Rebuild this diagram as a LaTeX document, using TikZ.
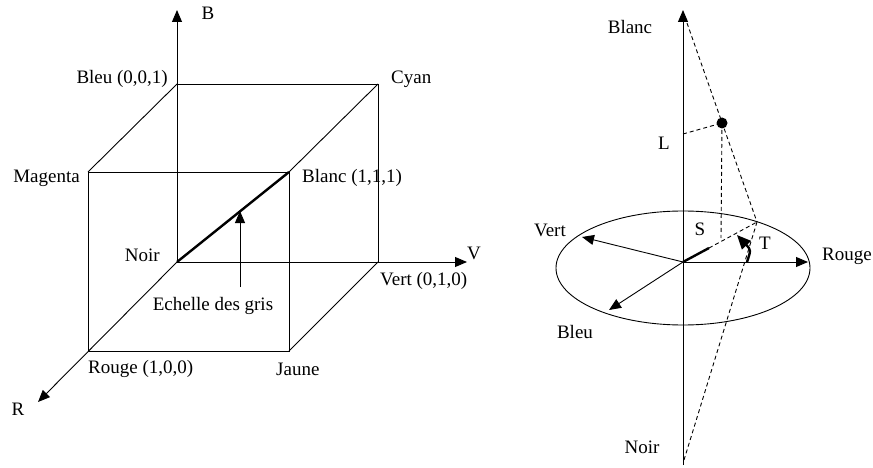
\documentclass[tikz,border=0pt]{standalone}
\usepackage{fontspec}
\setmainfont{Liberation Serif}
\usetikzlibrary{arrows.meta}
\tikzset{
  lbl/.style={inner sep=0pt, font=\fontsize{19}{21}\selectfont},
  ln/.style={line width=0.9pt},
  thk/.style={line width=2.4pt},
  axis/.style={line width=0.9pt, -{Triangle[length=12pt,width=10pt]}},
  dsh/.style={line width=0.9pt, dash pattern=on 4pt off 3pt},
}
\begin{document}
\begin{tikzpicture}[x=1pt,y=-1pt]
\useasboundingbox (0,0) rectangle (873,468);
% ---------- left cube ----------
\coordinate (noir) at (177,262);
\coordinate (bleu) at (177,84);
\coordinate (cyan) at (378,84);
\coordinate (mag) at (88,172);
\coordinate (blanc) at (289,172);
\coordinate (vert) at (378,262);
\coordinate (rouge) at (88,351);
\coordinate (jaune) at (289,351);
\coordinate (btip) at (177,10);
\coordinate (vtip) at (467,262);
\coordinate (rtip) at (38,402);
\coordinate (gbot) at (240,287);
\coordinate (gtop) at (240,211);

\draw[ln] (bleu) -- (cyan) -- (vert);
\draw[ln] (mag) -- (blanc) -- (jaune) -- (rouge) -- cycle;
\draw[ln] (bleu) -- (mag);
\draw[ln] (cyan) -- (blanc);
\draw[ln] (vert) -- (jaune);
\draw[axis] (noir) -- (btip);
\draw[axis] (noir) -- (vtip);
\draw[axis] (noir) -- (rtip);
\draw[thk] (noir) -- (blanc);
\draw[axis] (gbot) -- (gtop);

\node[lbl] (lB) at (208,13) {B};
\node[lbl, anchor=east] (lbleu) at (168,79) {Bleu (0,0,1)};
\node[lbl, anchor=west] (lcyan) at (391,79) {Cyan};
\node[lbl, anchor=east] (lmag) at (80,178) {Magenta};
\node[lbl, anchor=west] (lblanc) at (302,178) {Blanc (1,1,1)};
\node[lbl, anchor=east] (lnoir) at (160,255) {Noir};
\node[lbl] (lV) at (474,253) {V};
\node[lbl, anchor=west] (lvert) at (380,281) {Vert (0,1,0)};
\node[lbl] (lgris) at (213,306) {Echelle des gris};
\node[lbl, anchor=west] (lrouge) at (88,369) {Rouge (1,0,0)};
\node[lbl, anchor=west] (ljaune) at (276,369) {Jaune};
\node[lbl] (lR) at (18,409) {R};

% ---------- right diagram ----------
\coordinate (o) at (683,262);
\coordinate (atop) at (683,10);
\coordinate (abot) at (683,465);
\coordinate (wtop) at (687,23);
\coordinate (nbot) at (684,460);
\coordinate (P) at (757,222);
\coordinate (Lp) at (683,134);
\coordinate (dot) at (722,123);
\coordinate (sbot) at (721,238);
\coordinate (hk) at (709,248);
\coordinate (rT) at (808,262);
\coordinate (vT) at (582,237);
\coordinate (bT) at (609,310);
\coordinate (t0) at (747,262);
\coordinate (t1) at (737,235);

\draw[ln] (683,268) ellipse [x radius=127, y radius=57];
\draw[axis] (abot) -- (atop);
\draw[dsh] (wtop) -- (P);
\draw[dsh] (nbot) -- (P);
\draw[dsh] (Lp) -- (dot);
\draw[dsh] (dot) -- (sbot);
\draw[dsh] (hk) -- (P);
\draw[thk] (o) -- (hk);
\draw[axis] (o) -- (rT);
\draw[axis] (o) -- (vT);
\draw[axis] (o) -- (bT);
\draw[line width=2.4pt, -{Triangle[length=14pt,width=12pt]}] (t0) .. controls (751,250) .. (t1);
\fill (dot) circle (5.5pt);

\node[lbl] (rblanc) at (630,27) {Blanc};
\node[lbl] (rL) at (664,143) {L};
\node[lbl] (rvert) at (550,230) {Vert};
\node[lbl] (rS) at (700,229) {S};
\node[lbl] (rT2) at (765,243) {T};
\node[lbl, anchor=west] (rrouge) at (822,256) {Rouge};
\node[lbl] (rbleu) at (575,332) {Bleu};
\node[lbl] (rnoir) at (642,447) {Noir};
\end{tikzpicture}
\end{document}
